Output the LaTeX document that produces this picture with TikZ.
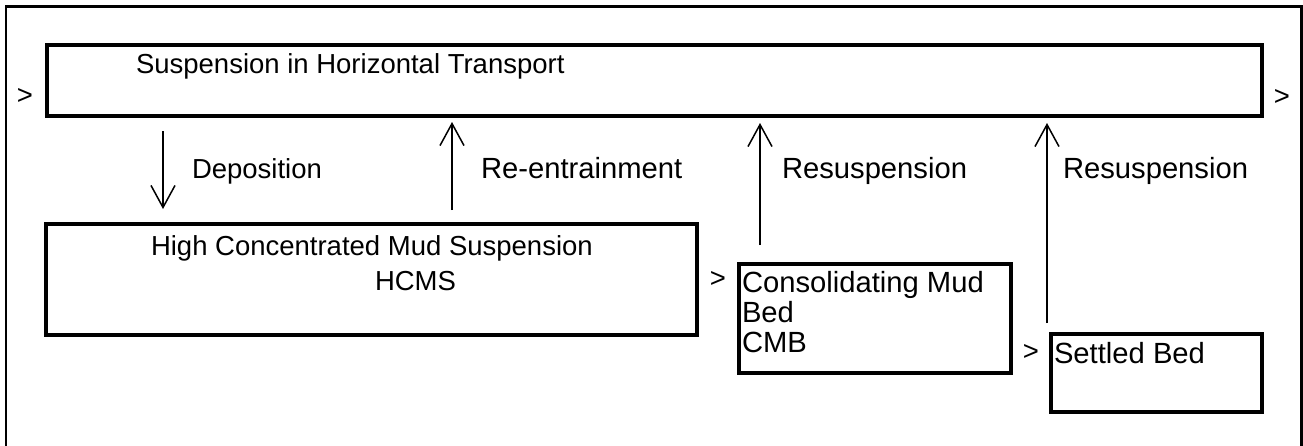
\documentclass[tikz,border=0pt]{standalone}
\usepackage{fontspec}
\setmainfont{Liberation Sans}
\usetikzlibrary{arrows.meta}
\begin{document}
\begin{tikzpicture}[x=1pt,y=-1pt,
  every node/.style={inner sep=0pt, outer sep=0pt, font=\fontsize{27.5}{31}\selectfont},
  box/.style={draw, line width=4pt, anchor=north west},
  lbl/.style={anchor=base west},
  wide/.style={font=\fontsize{29.2}{33}\selectfont},
  gt/.style={anchor=center},
  arr/.style={line width=1.5pt, -{Straight Barb[length=22pt, width=24pt, line width=1.5pt]}},
]
\useasboundingbox (0,0) rectangle (1303,445);
\clip (0,0) rectangle (1303,445);

% open frame around the whole scheme
\draw[line width=2.5pt] (6,460) -- (6,6.5) -- (1301.5,6.5) -- (1301.5,460);

% compartments
\node[box, minimum width=1215.5pt, minimum height=70.5pt] (top) at (46.5,45) {};
\node[box, minimum width=651pt, minimum height=111pt] (hcms) at (46,224) {};
\node[box, minimum width=272.5pt, minimum height=109.5pt] (cmb) at (738.5,263.5) {};
\node[box, minimum width=211pt, minimum height=78pt] (bed) at (1051,334) {};

% compartment texts
\node[lbl] (ttop) at (136,73) {Suspension in Horizontal Transport};
\node[lbl] (th1) at (151,255) {High Concentrated Mud Suspension};
\node[lbl] (th2) at (375,290) {HCMS};
\node[lbl, wide] (tc1) at (742,292) {Consolidating Mud};
\node[lbl, wide] (tc2) at (742,322) {Bed};
\node[lbl, wide] (tc3) at (742,352) {CMB};
\node[lbl, wide] (tb1) at (1054,363) {Settled Bed};

% flow markers
\node[gt] (g1) at (25,96) {>};
\node[gt] (g2) at (1282,97) {>};
\node[gt] (g3) at (718,279) {>};
\node[gt] (g4) at (1031,352) {>};

% exchange arrows
\coordinate (dA) at (163,131);  \coordinate (dB) at (163,209);
\coordinate (rA) at (452,210);  \coordinate (rB) at (452,122);
\coordinate (s1A) at (760,245); \coordinate (s1B) at (760,123);
\coordinate (s2A) at (1047,323);\coordinate (s2B) at (1047,123);
\draw[arr] (dA) -- (dB);
\draw[arr] (rA) -- (rB);
\draw[arr] (s1A) -- (s1B);
\draw[arr] (s2A) -- (s2B);

% arrow labels
\node[lbl] (ld) at (192,178) {Deposition};
\node[lbl, wide] (lr) at (481,178) {Re-entrainment};
\node[lbl, wide] (ls1) at (782,178) {Resuspension};
\node[lbl, wide] (ls2) at (1063,178) {Resuspension};
\end{tikzpicture}
\end{document}
